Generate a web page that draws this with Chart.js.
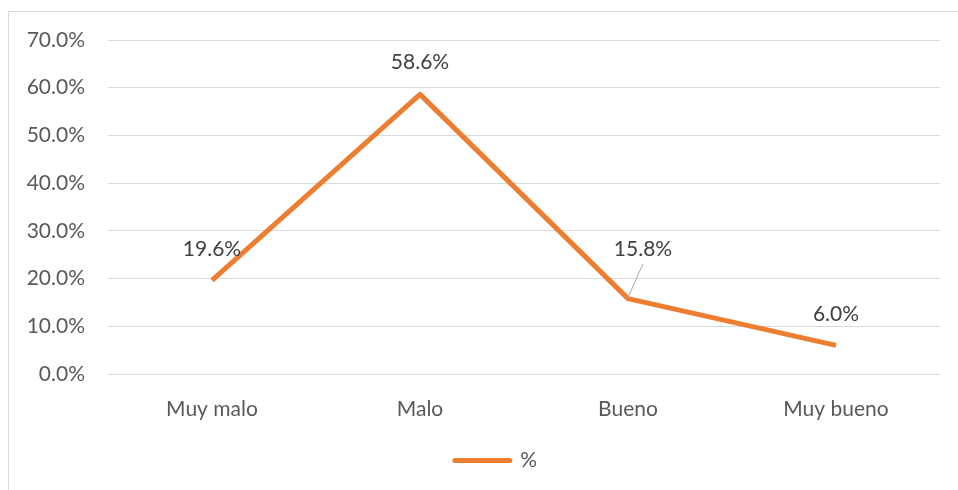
<!DOCTYPE html>
<html>
<head>
<meta charset="utf-8">
<script src="https://cdn.jsdelivr.net/npm/chart.js@4.4.1/dist/chart.umd.min.js"></script>
<style>
  html, body { margin: 0; padding: 0; background: #fff; overflow: hidden; }
  #frame { position: absolute; left: 8px; top: 11px; width: 1200px; height: 800px; border: 1px solid #d9d9d9; box-sizing: border-box; }
  #wrap { position: absolute; left: 0; top: 0; width: 958px; height: 490px; }
</style>
</head>
<body>
<div id="frame"></div>
<div id="wrap"><canvas id="c" width="958" height="490"></canvas></div>
<script>
const categories = ['Muy malo', 'Malo', 'Bueno', 'Muy bueno'];
const seriesName = '%';
const values = [19.6, 58.6, 15.8, 6.0];
const yTicks = [0, 10, 20, 30, 40, 50, 60, 70];

const FONT = 'Lato, "Open Sans", sans-serif';
const FS = 21;
const ORANGE = '#ED7D31';

const labelPlugin = {
  id: 'pointLabels',
  afterLayout(chart, args, opts) {
    const lg = chart.legend;
    if (lg && opts.legendShift) { lg.left += opts.legendShift; lg.right += opts.legendShift; }
  },
  afterDatasetsDraw(chart, args, opts) {
    const ctx = chart.ctx;
    const meta = chart.getDatasetMeta(0);
    ctx.save();
    ctx.font = FS + 'px ' + FONT;
    ctx.fillStyle = '#404040';
    ctx.textAlign = 'center';
    ctx.textBaseline = 'middle';
    meta.data.forEach((pt, i) => {
      const off = (opts.offsets && opts.offsets[i]) || { dx: 0, dy: -31, leader: false };
      const lx = pt.x + off.dx, ly = pt.y + off.dy;
      if (off.leader) {
        ctx.strokeStyle = '#a6a6a6';
        ctx.lineWidth = 1;
        ctx.beginPath();
        ctx.moveTo(lx, ly + 14);
        ctx.lineTo(pt.x, pt.y - 1);
        ctx.stroke();
      }
      ctx.fillText(values[i].toFixed(1) + '%', lx, ly);
    });
    ctx.restore();
  }
};

new Chart(document.getElementById('c'), {
  type: 'line',
  data: {
    labels: categories,
    datasets: [{
      label: seriesName,
      data: values,
      borderColor: ORANGE,
      backgroundColor: ORANGE,
      borderWidth: 5,
      borderJoinStyle: 'round',
      pointRadius: 0,
      pointHoverRadius: 0,
      tension: 0,
      fill: false
    }]
  },
  options: {
    responsive: false,
    animation: false,
    events: [],
    layout: { padding: { left: 24, right: 18, top: 40, bottom: 9 } },
    scales: {
      x: {
        offset: true,
        grid: { display: false },
        border: { display: false },
        ticks: { color: '#595959', font: { family: FONT, size: FS }, padding: 15, maxRotation: 0 },
        afterFit(s) { s.height = 66; }
      },
      y: {
        min: 0, max: 70,
        afterBuildTicks(s) { s.ticks = yTicks.map(v => ({ value: v })); },
        grid: { color: '#d9d9d9', lineWidth: 1, drawTicks: false },
        border: { display: false },
        ticks: {
          color: '#595959', font: { family: FONT, size: FS }, padding: 23,
          callback: v => v.toFixed(1) + '%'
        },
        afterFit(s) { s.width = 84; }
      }
    },
    plugins: {
      tooltip: { enabled: false },
      legend: {
        position: 'bottom',
        labels: {
          color: '#595959',
          font: { family: FONT, size: FS },
          usePointStyle: true,
          pointStyle: 'line',
          pointStyleWidth: 55,
          boxHeight: 5,
          padding: 10,
          generateLabels(chart) {
            const ds = chart.data.datasets[0];
            return [{
              text: ds.label, fillStyle: ORANGE, strokeStyle: ORANGE, lineWidth: 5,
              lineCap: 'round', pointStyle: 'line', datasetIndex: 0, fontColor: '#595959'
            }];
          }
        }
      },
      pointLabels: {
        legendShift: 14,
        offsets: [
          { dx: 0, dy: -31 },
          { dx: 0, dy: -32 },
          { dx: 15, dy: -49, leader: true },
          { dx: 0, dy: -31 }
        ]
      }
    }
  },
  plugins: [labelPlugin]
});
</script>
</body>
</html>
